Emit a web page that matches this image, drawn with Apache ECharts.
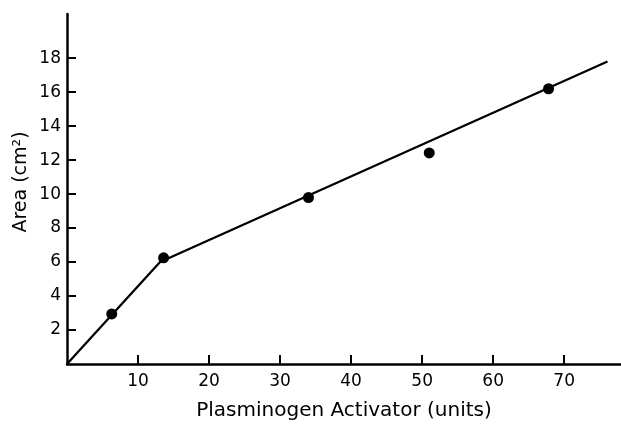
<!DOCTYPE html>
<html>
<head>
<meta charset="utf-8">
<script src="https://cdn.jsdelivr.net/npm/echarts@6/dist/echarts.min.js"></script>
<style>
html,body{margin:0;padding:0;background:#fff;}
#c{width:621px;height:426px;}
</style>
</head>
<body>
<div id="c"></div>
<script>
// Measured data points
var pointX = [6.3, 13.6, 34.0, 51.0, 67.8];
var pointY = [2.95, 6.25, 9.8, 12.42, 16.2];
// Fitted line (two segments)
var lineX = [0, 13.1, 76.1];
var lineY = [0, 6.0, 17.8];
// Tick labels
var xTicks = [10, 20, 30, 40, 50, 60, 70];
var yTicks = [2, 4, 6, 8, 10, 12, 14, 16, 18];

var pts = pointX.map(function (x, i) { return [x, pointY[i]]; });
var line = lineX.map(function (x, i) { return [x, lineY[i]]; });

var chart = echarts.init(document.getElementById('c'), null, {renderer: 'canvas'});
var font = 'DejaVu Sans';
chart.setOption({
  animation: false,
  backgroundColor: '#fff',
  grid: {left: 67, right: 0, top: 14, bottom: 54, containLabel: false},
  xAxis: {
    type: 'value', min: 0, max: 78,
    name: 'Plasminogen Activator (units)',
    nameLocation: 'middle', nameGap: 37,
    nameTextStyle: {fontFamily: font, fontSize: 20, color: '#000'},
    axisLine: {lineStyle: {color: '#000', width: 2.5}},
    axisTick: {show: true, inside: true, length: 9, customValues: xTicks, lineStyle: {color: '#000', width: 2}},
    axisLabel: {customValues: xTicks, margin: 9, fontFamily: font, fontSize: 17, color: '#000'},
    splitLine: {show: false}
  },
  yAxis: {
    type: 'value', min: 0, max: 20.6,
    axisLine: {lineStyle: {color: '#000', width: 2.5}},
    axisTick: {show: true, inside: true, length: 9, customValues: yTicks, lineStyle: {color: '#000', width: 2}},
    axisLabel: {customValues: yTicks, margin: 6, fontFamily: font, fontSize: 17, color: '#000'},
    splitLine: {show: false}
  },
  graphic: [{
    type: 'text',
    x: 21, y: 182,
    rotation: Math.PI / 2,
    style: {
      text: 'Area (cm²)',
      fontFamily: font, fontSize: 19, fill: '#000',
      align: 'center', verticalAlign: 'middle'
    }
  }],
  series: [{
    type: 'line',
    data: line,
    showSymbol: false,
    lineStyle: {color: '#000', width: 2.3},
    z: 2
  }, {
    type: 'scatter',
    data: pts,
    symbolSize: 11,
    itemStyle: {color: '#000', opacity: 1},
    z: 3
  }]
});
</script>
</body>
</html>
